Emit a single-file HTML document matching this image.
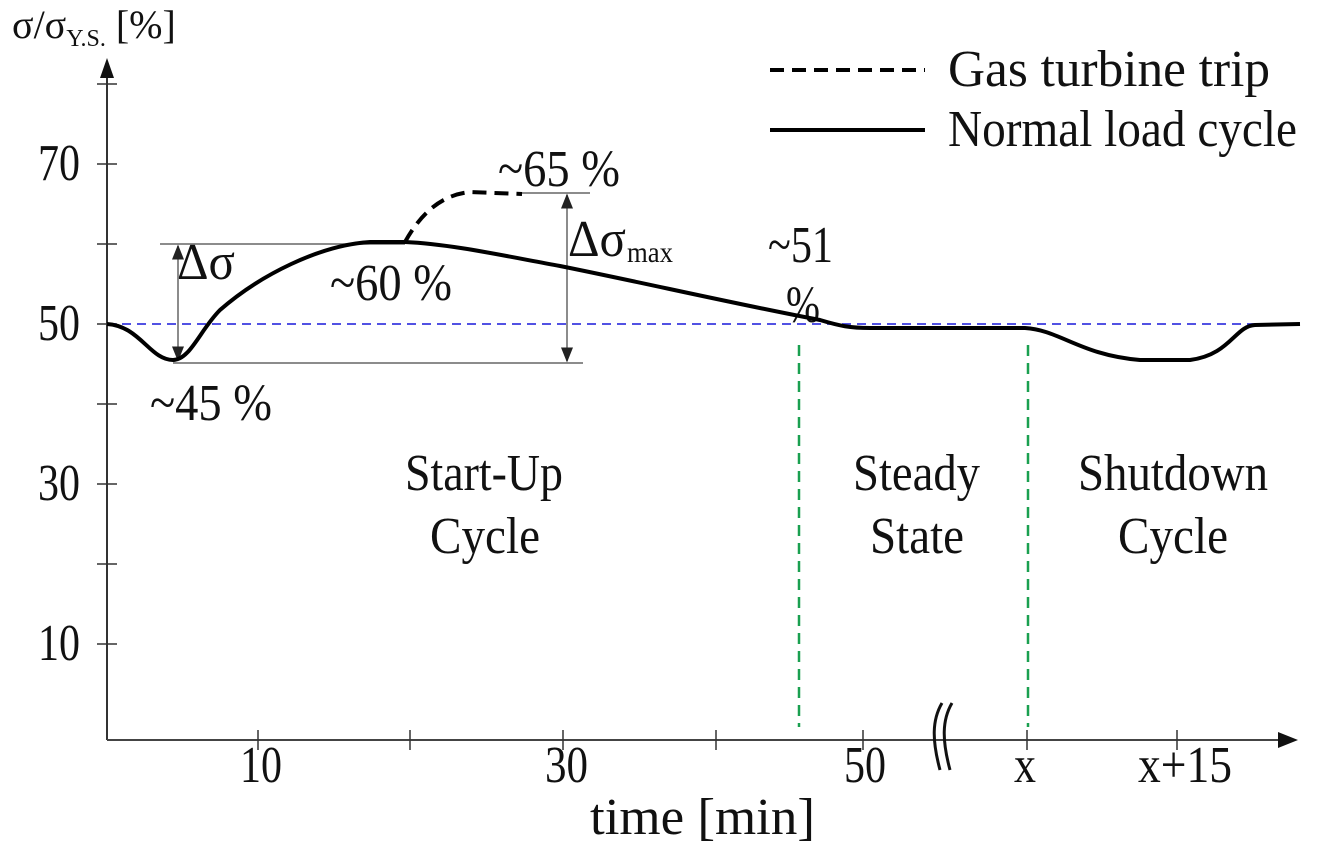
<!DOCTYPE html>
<html><head><style>body{margin:0;background:#fff}svg{display:block}text{font-family:"Liberation Serif",serif;fill:#111}</style></head><body>
<svg width="1327" height="854" viewBox="0 0 1327 854">
<defs><marker id="a" markerWidth="10" markerHeight="10" refX="9" refY="5" orient="auto-start-reverse"><path d="M0,1 L10,5 L0,9z" fill="#222"/></marker></defs>
<line x1="107" y1="740" x2="107" y2="70" stroke="#333" stroke-width="2"/>
<path d="M100,78 L107,58 L114,78z" fill="#111"/>
<line x1="107" y1="740" x2="1280" y2="740" stroke="#444" stroke-width="2"/>
<path d="M1278,732 L1298,740 L1278,748z" fill="#111"/>
<g stroke="#333" stroke-width="1.5">
<line x1="97" y1="84" x2="117" y2="84"/><line x1="97" y1="164" x2="117" y2="164"/><line x1="97" y1="244" x2="117" y2="244"/><line x1="97" y1="324" x2="117" y2="324"/><line x1="97" y1="404" x2="117" y2="404"/><line x1="97" y1="484" x2="117" y2="484"/><line x1="97" y1="564" x2="117" y2="564"/><line x1="97" y1="644" x2="117" y2="644"/>
<line x1="258" y1="730" x2="258" y2="750"/><line x1="410" y1="730" x2="410" y2="750"/><line x1="563" y1="730" x2="563" y2="750"/><line x1="716" y1="730" x2="716" y2="750"/><line x1="863" y1="730" x2="863" y2="750"/><line x1="1027" y1="730" x2="1027" y2="750"/><line x1="1177" y1="730" x2="1177" y2="750"/>
</g>
<path d="M942,703 C932,720 932,740 940,770 M952,703 C942,720 942,740 950,770" fill="none" stroke="#111" stroke-width="3"/>
<g font-size="52">
<text x="38" y="180" textLength="42" lengthAdjust="spacingAndGlyphs">70</text>
<text x="38" y="340" textLength="42" lengthAdjust="spacingAndGlyphs">50</text>
<text x="38" y="500" textLength="42" lengthAdjust="spacingAndGlyphs">30</text>
<text x="38" y="660" textLength="42" lengthAdjust="spacingAndGlyphs">10</text>
<text x="240" y="782" textLength="42" lengthAdjust="spacingAndGlyphs">10</text>
<text x="545" y="782" textLength="43" lengthAdjust="spacingAndGlyphs">30</text>
<text x="844" y="782" textLength="42" lengthAdjust="spacingAndGlyphs">50</text>
<text x="1014" y="782" textLength="22" lengthAdjust="spacingAndGlyphs">x</text>
<text x="1138" y="782" textLength="94" lengthAdjust="spacingAndGlyphs">x+15</text>
<text x="590" y="834" textLength="225" lengthAdjust="spacingAndGlyphs">time [min]</text>
<text x="498" y="186" textLength="122" lengthAdjust="spacingAndGlyphs">~65 %</text>
<text x="330" y="300" textLength="122" lengthAdjust="spacingAndGlyphs">~60 %</text>
<text x="150" y="420" textLength="122" lengthAdjust="spacingAndGlyphs">~45 %</text>
<text x="177" y="279" textLength="58" lengthAdjust="spacingAndGlyphs">Δσ</text>
<text x="568" y="256" textLength="58" lengthAdjust="spacingAndGlyphs">Δσ</text>
<text x="768" y="262" textLength="65" lengthAdjust="spacingAndGlyphs">~51</text>
<text x="786" y="322" textLength="34" lengthAdjust="spacingAndGlyphs">%</text>
<text x="405" y="490" textLength="158" lengthAdjust="spacingAndGlyphs">Start-Up</text>
<text x="430" y="553" textLength="110" lengthAdjust="spacingAndGlyphs">Cycle</text>
<text x="853" y="490" textLength="127" lengthAdjust="spacingAndGlyphs">Steady</text>
<text x="870" y="553" textLength="94" lengthAdjust="spacingAndGlyphs">State</text>
<text x="1078" y="490" textLength="190" lengthAdjust="spacingAndGlyphs">Shutdown</text>
<text x="1118" y="553" textLength="110" lengthAdjust="spacingAndGlyphs">Cycle</text>
<text x="948" y="86" textLength="322" lengthAdjust="spacingAndGlyphs">Gas turbine trip</text>
<text x="948" y="146" textLength="349" lengthAdjust="spacingAndGlyphs">Normal load cycle</text>
</g>
<text x="627" y="262" font-size="30" textLength="46" lengthAdjust="spacingAndGlyphs">max</text>
<text x="12" y="38" font-size="40">σ/σ<tspan font-size="24" dy="8">Y.S.</tspan><tspan dy="-8"> [%]</tspan></text>
<line x1="107" y1="324" x2="1300" y2="324" stroke="#3a3adf" stroke-width="1.8" stroke-dasharray="9,6"/>
<g stroke="#1aa050" stroke-width="2.5" stroke-dasharray="11,7"><line x1="799" y1="345" x2="799" y2="727"/><line x1="1028" y1="345" x2="1028" y2="727"/></g>
<g stroke="#666" stroke-width="1.5" fill="none">
<line x1="160" y1="244" x2="405" y2="244"/><line x1="173" y1="363" x2="583" y2="363"/><line x1="520" y1="193" x2="590" y2="193"/>
<line x1="178" y1="246" x2="178" y2="360" marker-start="url(#a)" marker-end="url(#a)"/>
<line x1="567" y1="195" x2="567" y2="361" marker-start="url(#a)" marker-end="url(#a)"/>
</g>
<path d="M107,324 C140,326 150,360 173,360 C190,360 200,330 220,310 C260,275 320,245 370,242 L405,242 C450,244 500,255 560,266 C640,282 740,305 820,320 C840,326 850,328 870,328 L1025,328 C1060,330 1080,355 1140,360 L1190,360 C1230,355 1235,326 1255,325 L1300,324" fill="none" stroke="#000" stroke-width="4"/>
<path d="M405,242 C420,215 440,195 470,192 L522,194" fill="none" stroke="#000" stroke-width="4" stroke-dasharray="14,8"/>
<line x1="770" y1="70" x2="925" y2="70" stroke="#000" stroke-width="4" stroke-dasharray="14,8"/>
<line x1="770" y1="130" x2="925" y2="130" stroke="#000" stroke-width="4"/>
</svg>
</body></html>
